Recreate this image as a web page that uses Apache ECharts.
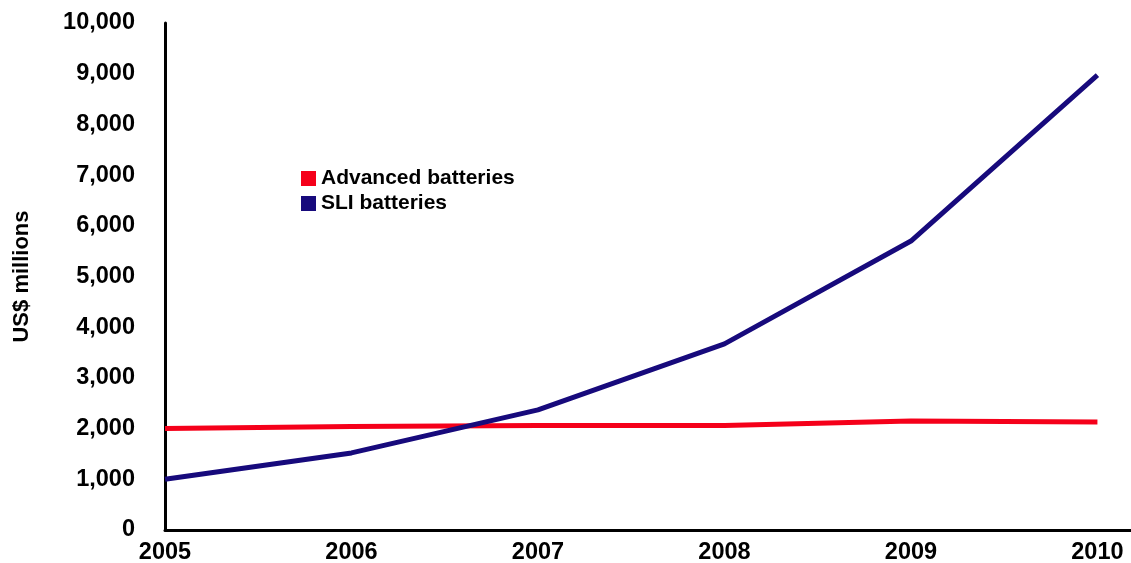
<!DOCTYPE html>
<html>
<head>
<meta charset="utf-8">
<script src="https://cdn.jsdelivr.net/npm/echarts@6/dist/echarts.min.js"></script>
<style>
  html, body { margin: 0; padding: 0; background: #fff; }
  #chart { width: 1131px; height: 563px; }
</style>
</head>
<body>
<div id="chart"></div>
<script>
// years on the x axis
const years = [2005, 2006, 2007, 2008, 2009, 2010]
// US$ millions
const advanced = [2000, 2040, 2060, 2060, 2150, 2130]
const sli = [1000, 1520, 2370, 3670, 5700, 8970]

const font = 'Liberation Sans, Arial, Helvetica, sans-serif'

let chart = echarts.init(document.getElementById('chart'))
chart.setOption({
  animation: false,
  grid: { left: 165, top: 23, right: 0, bottom: 33, outerBoundsMode: 'none' },
  legend: {
    orient: 'vertical',
    left: 296,
    top: 163,
    icon: 'rect',
    itemWidth: 15,
    itemHeight: 15,
    itemGap: 4,
    textStyle: { fontFamily: font, fontWeight: 'bold', fontSize: 21, color: '#000' },
    data: ['Advanced batteries', 'SLI batteries']
  },
  xAxis: {
    type: 'value',
    min: 2005,
    max: 2010.18,
    interval: 1,
    splitLine: { show: false },
    axisTick: { show: false },
    axisLine: { lineStyle: { color: '#000', width: 3 } },
    axisLabel: {
      showMaxLabel: false,
      margin: 11,
      fontFamily: font,
      fontWeight: 'bold',
      fontSize: 23.5,
      color: '#000',
      formatter: v => String(v)
    }
  },
  yAxis: {
    type: 'value',
    min: 0,
    max: 10000,
    interval: 1000,
    name: 'US$ millions',
    nameLocation: 'middle',
    nameGap: 132,
    nameTextStyle: { fontFamily: font, fontWeight: 'bold', fontSize: 22, color: '#000' },
    splitLine: { show: false },
    axisTick: { show: false },
    axisLine: { show: true, lineStyle: { color: '#000', width: 3 } },
    axisLabel: {
      margin: 30,
      fontFamily: font,
      fontWeight: 'bold',
      fontSize: 23.5,
      color: '#000',
      formatter: v => v.toLocaleString('en-US')
    }
  },
  series: [
    {
      name: 'Advanced batteries',
      type: 'line',
      symbol: 'none',
      color: '#f5001a',
      lineStyle: { width: 5, color: '#f5001a' },
      data: years.map((y, i) => [y, advanced[i]])
    },
    {
      name: 'SLI batteries',
      type: 'line',
      symbol: 'none',
      color: '#170a7c',
      lineStyle: { width: 5, color: '#170a7c' },
      data: years.map((y, i) => [y, sli[i]])
    }
  ]
})
</script>
</body>
</html>
